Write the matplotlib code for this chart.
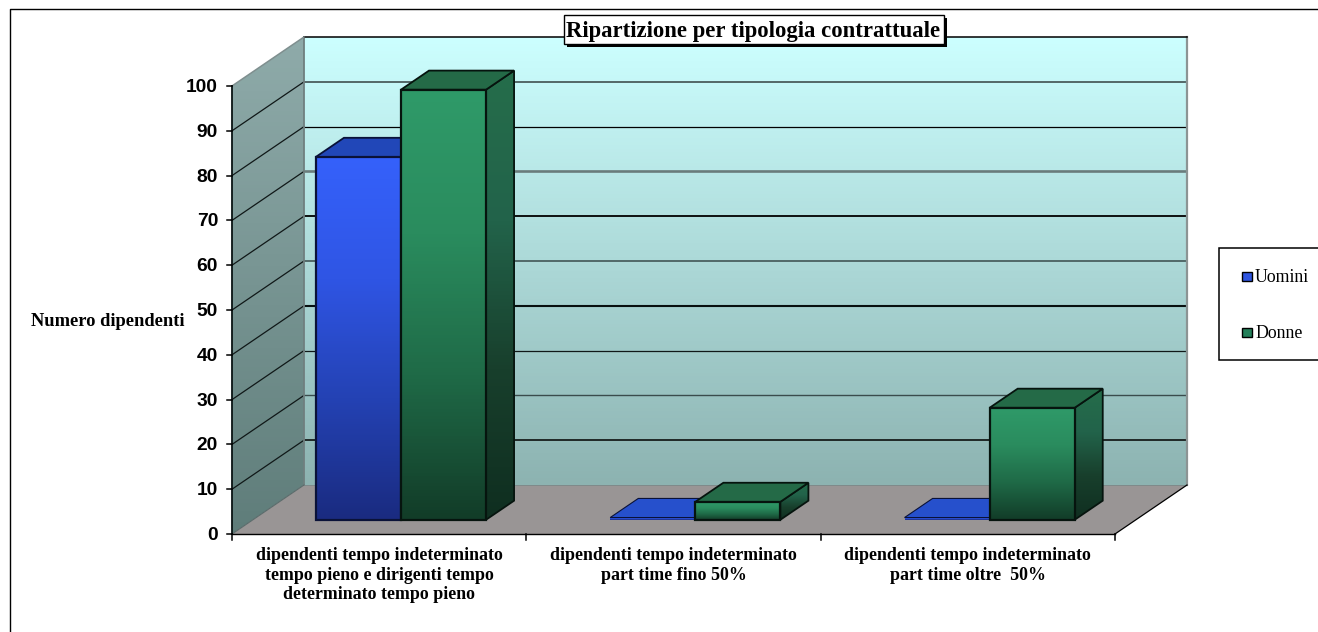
import numpy as np
import matplotlib
matplotlib.use('Agg')
import matplotlib.pyplot as plt
from matplotlib.colors import LinearSegmentedColormap
from matplotlib.patches import Polygon, Rectangle

W, H = 1318, 632

categories = [
    'dipendenti tempo indeterminato\ntempo pieno e dirigenti tempo\ndeterminato tempo pieno',
    'dipendenti tempo indeterminato\npart time fino 50%',
    'dipendenti tempo indeterminato\npart time oltre  50%',
]
uomini = [81, 0.5, 0.5]
donne = [96, 4, 25]
yticks = [0, 10, 20, 30, 40, 50, 60, 70, 80, 90, 100]
series_names = ['Uomini', 'Donne']
title = 'Ripartizione per tipologia contrattuale'
ylabel = 'Numero dipendenti'

# grid lines look uneven in the source image, value 10 to 90
grid_style = {10: ('#000000', 1.1), 20: ('#3a4c4c', 1.0), 30: ('#101818', 0.9), 40: ('#081010', 1.5),
              50: ('#4a6060', 1.3), 60: ('#000000', 1.3), 70: ('#6a7c7c', 1.9), 80: ('#000000', 0.9),
              90: ('#4a5c5c', 1.3)}

# scales: front plane x 0..3 is px 232..1115, y 0..100 is px 534..86
px_x = (1115 - 232) / 3
px_y = 4.48
depth_x = 72 / px_x
depth_y = 49 / px_y
bar_w = 0.289
bar_gap = 0.214
d_front, d_back = 0.29, 0.68


def proj(x, y, d=0):
    return (x + d * depth_x, y + d * depth_y)


def gradient_poly(ax, verts, colors):
    # colors run from the top of the polygon to the bottom
    xs = [v[0] for v in verts]
    ys = [v[1] for v in verts]
    cmap = LinearSegmentedColormap.from_list('g', colors)
    im = ax.imshow(np.linspace(0, 1, 128).reshape(-1, 1), cmap=cmap, aspect='auto',
                   extent=(min(xs), max(xs), min(ys), max(ys)), vmin=0, vmax=1, zorder=ax.zo)
    im.set_clip_path(Polygon(verts, transform=ax.transData))
    ax.zo += 1


def flat_poly(ax, verts, color, edge=None, lw=1.0):
    ax.add_patch(Polygon(verts, closed=True, facecolor=color, edgecolor=edge or 'none', linewidth=lw, zorder=ax.zo,
                         joinstyle='miter'))
    ax.zo += 1


def draw_bar(ax, x, val, front, side, top, edge):
    x2 = x + bar_w
    if side is not None:
        verts = [proj(x2, 0, d_front), proj(x2, 0, d_back), proj(x2, val, d_back), proj(x2, val, d_front)]
        gradient_poly(ax, verts, side)
        flat_poly(ax, verts, 'none', edge, 1.3)
    flat_poly(ax, [proj(x, val, d_front), proj(x2, val, d_front), proj(x2, val, d_back), proj(x, val, d_back)],
              top, edge, 1.3 if val > 1 else 0.8)
    verts = [proj(x, 0, d_front), proj(x2, 0, d_front), proj(x2, val, d_front), proj(x, val, d_front)]
    gradient_poly(ax, verts, front)
    if val > 1:
        flat_poly(ax, verts, 'none', edge, 1.6)


fig = plt.figure(figsize=(W / 100, H / 100), dpi=100, facecolor='white')
ax = fig.add_axes([0, 0, 1, 1])
ax.zo = 1
ax.axis('off')
xlim = (-232 / px_x, (W - 232) / px_x)
ylim = (-(H - 534) / px_y, 534 / px_y)

# back wall
gradient_poly(ax, [proj(0, 0, 1), proj(3, 0, 1), proj(3, 100, 1), proj(0, 100, 1)], ['#ccffff', '#8db3b1'])
# left wall
gradient_poly(ax, [proj(0, 0, 0), proj(0, 0, 1), proj(0, 100, 1), proj(0, 100, 0)], ['#8fabaa', '#5f7d7a'])
# floor
flat_poly(ax, [proj(0, 0, 0), proj(3, 0, 0), proj(3, 0, 1), proj(0, 0, 1)], '#999595')

for v in yticks[1:-1]:
    color, lw = grid_style[v]
    p0, p1, p2 = proj(0, v, 0), proj(0, v, 1), proj(3, v, 1)
    ax.plot([p1[0], p2[0]], [p1[1], p2[1]], color=color, lw=lw, zorder=ax.zo, solid_capstyle='butt')
    ax.plot([p0[0], p1[0]], [p0[1], p1[1]], color='#101818', lw=0.9, zorder=ax.zo)
ax.zo += 1

# wall outlines and axis lines
back_r = [proj(3, 0, 1), proj(3, 100, 1)]
ax.plot(*zip(*back_r), color='#8c9494', lw=1.6, zorder=ax.zo)
back_l = [proj(0, 0, 1), proj(0, 100, 1)]
ax.plot(*zip(*back_l), color='#6f7f7f', lw=1.3, zorder=ax.zo)
ax.plot(*zip(proj(0, 100, 1), proj(3, 100, 1)), color='#000000', lw=1.1, zorder=ax.zo)
ax.plot(*zip(proj(0, 100, 0), proj(0, 100, 1)), color='#7f8f8f', lw=1.1, zorder=ax.zo)
ax.plot(*zip(proj(0, 0, 1), proj(3, 0, 1)), color='#7f8a8a', lw=0.7, zorder=ax.zo)
ax.plot(*zip(proj(0, 0, 0), proj(0, 0, 1)), color='#5a6a6a', lw=0.8, zorder=ax.zo)
ax.plot(*zip(proj(3, 0, 0), proj(3, 0, 1)), color='#000000', lw=0.9, zorder=ax.zo)
ax.plot([0, 3], [0, 0], color='#000000', lw=1.0, zorder=ax.zo)
ax.plot([0, 0], [0, 100], color='#0a1414', lw=1.3, zorder=ax.zo)
ax.zo += 1
for v in yticks:
    ax.plot([-5 / px_x, 0], [v, v], color='#000000', lw=1.1, zorder=ax.zo)
for c in range(4):
    ax.plot([c, c], [0, -6 / px_y], color='#000000', lw=1.1, zorder=ax.zo)
ax.zo += 1

# bars
blue_front = ['#3561fb', '#2f55e4', '#2442b4', '#1a2b80']
green_front = ['#2f9a69', '#2a8c5e', '#1f6a47', '#123c28']
green_side = ['#256d4a', '#22634a', '#183f2c', '#0f2e20']
for i in range(len(categories)):
    x = i + bar_gap
    draw_bar(ax, x, uomini[i], blue_front, None, '#2147b8' if uomini[i] > 10 else '#2650cc', '#0a1238')
    draw_bar(ax, x + bar_w, donne[i], green_front, green_side, '#246a47', '#06140e')

for v in yticks:
    ax.text(-14 / px_x, v - 1.5 / px_y, str(v), ha='right', va='center', fontsize=13.8, fontweight='bold',
            family='Liberation Sans', color='#000000', zorder=ax.zo)
for i, label in enumerate(categories):
    ax.text(i + 0.5, -13 / px_y, label, ha='center', va='top', fontsize=12.9, fontweight='bold',
            family='Liberation Serif', color='#000000', linespacing=1.2, zorder=ax.zo)
ax.set_xlim(xlim)
ax.set_ylim(ylim)

# pixel overlay for frame, title, legend
ov = fig.add_axes([0, 0, 1, 1])
ov.set_xlim(0, W)
ov.set_ylim(H, 0)
ov.axis('off')
ov.patch.set_alpha(0)
ov.plot([10, 10, W], [H, 8.5, 8.5], color='#000000', lw=1.0)

ov.add_patch(Rectangle((567, 18), 380, 29, facecolor='#000000', edgecolor='none'))
ov.add_patch(Rectangle((564, 15), 380, 29, facecolor='white', edgecolor='#000000', lw=1.0))
ov.text(753, 31.5, title, ha='center', va='center', fontsize=16.4, fontweight='bold', family='Liberation Serif')

ov.text(31, 322, ylabel, ha='left', va='center', fontsize=13.3, fontweight='bold', family='Liberation Serif')

ov.add_patch(Rectangle((1219, 248), 110, 112, facecolor='white', edgecolor='#000000', lw=1.1))
for y, name, col in zip([276, 332], series_names, ['#2f55e0', '#24805a']):
    ov.add_patch(Rectangle((1242, y - 4.5), 10, 9, facecolor=col, edgecolor='#000000', lw=1.0))
    ov.text(1255, y + 1.5, name, ha='left', va='center', fontsize=12.8, family='Liberation Serif')

fig.savefig('out.png', dpi=100, facecolor='white')
